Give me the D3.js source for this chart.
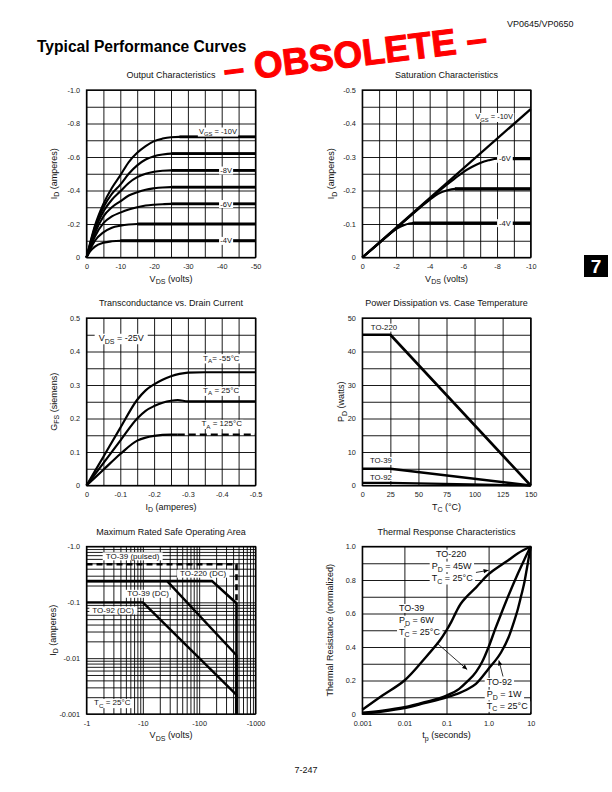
<!DOCTYPE html>
<html><head><meta charset="utf-8">
<script src="https://cdn.jsdelivr.net/npm/d3@7/dist/d3.min.js"></script>
<style>
html,body{margin:0;padding:0;background:#fff;}
svg{display:block;}
text{font-family:"Liberation Sans",Arial,Helvetica,sans-serif;}
</style></head><body>
<svg id="page" width="612" height="792"></svg>
<script>
// ================= DATA =================
// Output Characteristics: [VDS (V), ID (A)]
const outVgs10 = [[0,0],[-1,-0.08],[-2.5,-0.19],[-5,-0.32],[-7.5,-0.415],[-10,-0.49],[-12.5,-0.57],[-15,-0.625],[-17.5,-0.665],[-20,-0.695],[-22.5,-0.71],[-25,-0.718],[-27.5,-0.72],[-50,-0.72]];
const outVgs9  = [[0,0],[-1,-0.075],[-2.5,-0.18],[-5,-0.3],[-7.5,-0.38],[-10,-0.435],[-12.5,-0.5],[-15,-0.55],[-17.5,-0.585],[-20,-0.605],[-22.5,-0.615],[-25,-0.62],[-50,-0.62]];
const outVgs8  = [[0,0],[-1,-0.07],[-2.5,-0.165],[-5,-0.275],[-7.5,-0.345],[-10,-0.395],[-12.5,-0.445],[-15,-0.48],[-17.5,-0.5],[-20,-0.512],[-22.5,-0.518],[-25,-0.52],[-50,-0.52]];
const outVgs7  = [[0,0],[-1,-0.06],[-2.5,-0.145],[-5,-0.245],[-7.5,-0.3],[-10,-0.335],[-12.5,-0.37],[-15,-0.39],[-17.5,-0.405],[-20,-0.413],[-22.5,-0.418],[-25,-0.42],[-50,-0.42]];
const outVgs6  = [[0,0],[-1,-0.055],[-2.5,-0.125],[-5,-0.205],[-7.5,-0.245],[-10,-0.268],[-12.5,-0.287],[-15,-0.3],[-17.5,-0.31],[-20,-0.315],[-22.5,-0.318],[-25,-0.32],[-50,-0.32]];
const outVgs5  = [[0,0],[-1,-0.045],[-2.5,-0.1],[-5,-0.15],[-7.5,-0.178],[-10,-0.19],[-12.5,-0.197],[-15,-0.2],[-50,-0.2]];
const outVgs4  = [[0,0],[-1,-0.035],[-2.5,-0.065],[-5,-0.088],[-7.5,-0.097],[-10,-0.1],[-50,-0.1]];
const outXTicks = [0,-10,-20,-30,-40,-50];
const outYTicks = [0,-0.2,-0.4,-0.6,-0.8,-1.0];

// Saturation Characteristics: [VDS (V), ID (A)]
const satVgs10 = [[0,0],[-10,-0.443]];
const satVgs6  = [[0,0],[-2,-0.087],[-4,-0.175],[-5,-0.217],[-5.5,-0.236],[-6,-0.255],[-6.5,-0.27],[-7,-0.282],[-7.5,-0.29],[-8,-0.295],[-10,-0.295]];
const satVgs5  = [[0,0],[-2,-0.086],[-3.5,-0.152],[-4,-0.172],[-4.5,-0.19],[-5,-0.2],[-5.5,-0.205],[-10,-0.205]];
const satVgs4  = [[0,0],[-1,-0.043],[-2,-0.085],[-2.5,-0.097],[-3,-0.103],[-10,-0.103]];
const satXTicks = [0,-2,-4,-6,-8,-10];
const satYTicks = [0,-0.1,-0.2,-0.3,-0.4,-0.5];

// Transconductance vs. Drain Current: [ID (A), GFS (S)]
const gfsM55 = [[0,0],[-0.05,0.086],[-0.1,0.172],[-0.15,0.256],[-0.175,0.284],[-0.2,0.302],[-0.225,0.316],[-0.25,0.326],[-0.275,0.333],[-0.3,0.337],[-0.35,0.338],[-0.5,0.338]];
const gfs25  = [[0,0],[-0.05,0.067],[-0.1,0.134],[-0.15,0.2],[-0.175,0.223],[-0.2,0.237],[-0.225,0.247],[-0.25,0.253],[-0.27,0.255],[-0.3,0.251],[-0.5,0.251]];
const gfs125 = [[0,0],[-0.05,0.047],[-0.1,0.094],[-0.15,0.134],[-0.175,0.143],[-0.2,0.148],[-0.225,0.151],[-0.25,0.152],[-0.27,0.152]];
const gfs125Ext = [[-0.27,0.152],[-0.5,0.152]];
const gfsXTicks = [0,-0.1,-0.2,-0.3,-0.4,-0.5];
const gfsYTicks = [0,0.1,0.2,0.3,0.4,0.5];

// Power Dissipation vs. Case Temperature: [TC (°C), PD (W)]
const pdTo220 = [[0,45],[25,45],[150,0]];
const pdTo39  = [[0,5],[25,5],[150,0]];
const pdTo92  = [[0,0.8],[25,0.8],[150,0]];
const pdXTicks = [0,25,50,75,100,125,150];
const pdYTicks = [0,10,20,30,40,50];

// Maximum Rated Safe Operating Area: [|VDS| (V), |ID| (A)]
const soaTo39Pulsed = [[1,0.48],[460,0.48],[460,0.1]];
const soaTo220 = [[1,0.24],[170,0.24],[460,0.096],[460,0.001]];
const soaTo39  = [[1,0.24],[27,0.24],[460,0.0113],[460,0.001]];
const soaTo92  = [[1,0.1],[10,0.1],[460,0.0022],[460,0.001]];
const soaXTicks = [1,10,100,1000];
const soaXLabels = ["-1","-10","-100","-1000"];
const soaYTicks = [1,0.1,0.01,0.001];
const soaYLabels = ["-1.0","-0.1","-0.01","-0.001"];

// Thermal Response Characteristics: [tp (s), normalized thermal resistance]
const thTo220 = [[0.001,0.025],[0.003,0.11],[0.01,0.2],[0.03,0.33],[0.07,0.44],[0.1,0.5],[0.13,0.55],[0.17,0.61],[0.22,0.66],[0.3,0.7],[0.5,0.755],[1,0.835],[2,0.89],[3,0.92],[5,0.96],[10,1.0]];
const thTo39  = [[0.001,0.008],[0.003,0.02],[0.01,0.04],[0.03,0.07],[0.1,0.11],[0.2,0.15],[0.3,0.19],[0.5,0.25],[0.7,0.31],[1,0.4],[1.5,0.52],[2,0.6],[3,0.71],[5,0.84],[7,0.92],[10,1.0]];
const thTo92  = [[0.001,0.003],[0.003,0.015],[0.01,0.035],[0.03,0.065],[0.1,0.1],[0.2,0.125],[0.3,0.145],[0.5,0.18],[1,0.27],[2,0.37],[3,0.46],[4,0.55],[5,0.63],[6,0.71],[7,0.78],[8,0.86],[10,1.0]];
const thXTicks = [0.001,0.01,0.1,1,10];
const thXLabels = ["0.001","0.01","0.1","1.0","10"];
const thYTicks = [0,0.2,0.4,0.6,0.8,1.0];

// ================= DRAWING =================
const svg = d3.select("#page");
const fmt1 = v => v === 0 ? "0" : v.toFixed(1);
const fmtI = v => String(v);

const defs = svg.append("defs");
defs.append("marker").attr("id","ah").attr("viewBox","0 0 10 10").attr("refX",10).attr("refY",5)
  .attr("markerWidth",6).attr("markerHeight",5).attr("markerUnits","userSpaceOnUse").attr("orient","auto")
  .append("path").attr("d","M0,0.5 L10,5 L0,9.5 Z").attr("fill","#000");

function rich(t, s, fs) {
  const parts = s.split(/_\{([^}]*)\}/);
  let down = false;
  parts.forEach((p, i) => {
    if (p === "") return;
    const ts = t.append("tspan").text(p);
    if (i % 2 === 1) { ts.attr("font-size", fs*0.78).attr("dy", fs*0.28); down = true; }
    else if (down) { ts.attr("dy", -fs*0.28); down = false; }
  });
}

function panel(c) {
  const x = c.xs.range([0, c.w]), y = c.ys.range([c.h, 0]);
  const g = svg.append("g").attr("transform", `translate(${c.x0},${c.y0})`);
  const grid = g.append("g");
  grid.append("g").attr("transform", `translate(0,${c.h})`)
    .call(d3.axisBottom(x).tickValues(c.gx).tickSize(-c.h).tickFormat(() => ""));
  grid.append("g").call(d3.axisLeft(y).tickValues(c.gy).tickSize(-c.w).tickFormat(() => ""));
  grid.selectAll(".domain").remove();
  grid.selectAll("line").attr("stroke", "#000").attr("stroke-width", 0.9);
  g.append("rect").attr("width", c.w).attr("height", c.h).attr("fill", "none").attr("stroke", "#000").attr("stroke-width", 1.3);
  const ax = g.append("g").attr("transform", `translate(0,${c.h})`)
    .call(d3.axisBottom(x).tickValues(c.tx).tickFormat(c.fx).tickSize(0).tickPadding(6.4));
  const ay = g.append("g").call(d3.axisLeft(y).tickValues(c.ty).tickFormat(c.fy).tickSize(0).tickPadding(6.4));
  [ax, ay].forEach(a => {
    a.select(".domain").remove();
    a.attr("font-family", null);
    a.selectAll("text").attr("font-size", 7.3).attr("fill", "#222");
  });
  g.append("text").attr("x", c.w/2).attr("y", -12).attr("text-anchor", "middle").attr("font-size", 9).attr("fill","#111").text(c.title);
  const xt = g.append("text").attr("x", c.w/2).attr("y", c.h + 21).attr("dy", "0.35em").attr("text-anchor", "middle").attr("font-size", 9).attr("fill","#111");
  rich(xt, c.xt, 9);
  const yt = g.append("text").attr("transform", `translate(${-c.yoff},${c.h/2}) rotate(-90)`).attr("dy", "0.35em")
    .attr("text-anchor", "middle").attr("font-size", 9).attr("fill","#111");
  rich(yt, c.yt, 9);
  return {g, x, y};
}

function curve(P, data, w, opt = {}) {
  return P.g.append("path").datum(data)
    .attr("d", d3.line().x(d => P.x(d[0])).y(d => P.y(d[1])).curve(opt.curve || d3.curveMonotoneX))
    .attr("fill", "none").attr("stroke", "#000").attr("stroke-width", w)
    .attr("stroke-linejoin", "round").attr("stroke-dasharray", opt.dash || null);
}
function flatPart(data) {
  const last = data[data.length-1][1];
  return data.slice(data.findIndex(d => d[1] === last));
}
function lab(P, xv, yv, str, fs, anchor = "start", pad = 1.2) {
  const t = P.g.append("text").attr("x", P.x(xv)).attr("y", P.y(yv)).attr("dy", "0.35em")
    .attr("font-size", fs).attr("text-anchor", anchor).attr("fill", "#111");
  rich(t, str, fs);
  const b = t.node().getBBox();
  P.g.insert("rect", () => t.node()).attr("x", b.x - pad).attr("y", b.y + 0.5)
    .attr("width", b.width + 2*pad).attr("height", b.height - 1).attr("fill", "#fff");
  return t;
}
function arrow(P, a, b) {
  P.g.append("line").attr("x1", P.x(a[0])).attr("y1", P.y(a[1])).attr("x2", P.x(b[0])).attr("y2", P.y(b[1]))
    .attr("stroke", "#000").attr("stroke-width", 0.8).attr("marker-end", "url(#ah)");
}

const colX = [86.5, 362.3], colW = [169, 168.4];
const rowY = [90, 318, 546.5], rowH = 167.5;

// ---- Panel 1: Output Characteristics
{
  const xs = d3.scaleLinear().domain([0,-50]), ys = d3.scaleLinear().domain([0,-1]);
  const P = panel({x0: colX[0], y0: rowY[0], w: colW[0], h: rowH, xs, ys,
    gx: xs.ticks(10), gy: ys.ticks(10), tx: outXTicks, ty: outYTicks, fx: fmtI, fy: fmt1,
    title: "Output Characteristics", xt: "V_{DS} (volts)", yt: "I_{D} (amperes)", yoff: 33});
  [outVgs10, outVgs9, outVgs8, outVgs7, outVgs6, outVgs5, outVgs4].forEach(s => {
    curve(P, s, 2.1);
    curve(P, flatPart(s), 2.9);
  });
  lab(P, -44.5, -0.753, "V_{GS} = -10V", 7.5, "end");
  lab(P, -41.3, -0.52, "-8V", 7.5, "middle");
  lab(P, -41.3, -0.32, "-6V", 7.5, "middle");
  lab(P, -41.3, -0.1, "-4V", 7.5, "middle");
}

// ---- Panel 2: Saturation Characteristics
{
  const xs = d3.scaleLinear().domain([0,-10]), ys = d3.scaleLinear().domain([0,-0.5]);
  const P = panel({x0: colX[1], y0: rowY[0], w: colW[1], h: rowH, xs, ys,
    gx: xs.ticks(10), gy: ys.ticks(10), tx: satXTicks, ty: satYTicks, fx: fmtI, fy: fmt1,
    title: "Saturation Characteristics", xt: "V_{DS} (volts)", yt: "I_{D} (amperes)", yoff: 31.3});
  curve(P, satVgs10, 2.3);
  [satVgs6, satVgs5, satVgs4].forEach(s => { curve(P, s, 2.1); curve(P, flatPart(s), 3.2); });
  lab(P, -8.95, -0.42, "V_{GS} = -10V", 7.5, "end");
  lab(P, -8.47, -0.295, "-6V", 7.5, "middle", 2);
  lab(P, -8.47, -0.103, "-4V", 7.5, "middle", 2);
}

// ---- Panel 3: Transconductance vs. Drain Current
{
  const xs = d3.scaleLinear().domain([0,-0.5]), ys = d3.scaleLinear().domain([0,0.5]);
  const P = panel({x0: colX[0], y0: rowY[1], w: colW[0], h: rowH, xs, ys,
    gx: xs.ticks(10), gy: ys.ticks(10), tx: gfsXTicks, ty: gfsYTicks, fx: fmt1, fy: fmt1,
    title: "Transconductance vs. Drain Current", xt: "I_{D} (amperes)", yt: "G_{FS} (siemens)", yoff: 33});
  curve(P, gfsM55, 2.2);
  curve(P, gfs25, 2.2);
  curve(P, gfs125, 2.2);
  curve(P, gfs125Ext, 2.2, {dash: "7,4", curve: d3.curveLinear});
  lab(P, -0.036, 0.44, "V_{DS} = -25V", 9, "start", 4);
  lab(P, -0.345, 0.381, "T_{A}= -55°C", 8);
  lab(P, -0.345, 0.284, "T_{A} = 25°C", 8);
  lab(P, -0.34, 0.185, "T_{A} = 125°C", 8);
}

// ---- Panel 4: Power Dissipation vs. Case Temperature
{
  const xs = d3.scaleLinear().domain([0,150]), ys = d3.scaleLinear().domain([0,50]);
  const P = panel({x0: colX[1], y0: rowY[1], w: colW[1], h: rowH, xs, ys,
    gx: pdXTicks, gy: ys.ticks(10), tx: pdXTicks, ty: pdYTicks, fx: fmtI, fy: fmtI,
    title: "Power Dissipation vs. Case Temperature", xt: "T_{C} (°C)", yt: "P_{D} (watts)", yoff: 21});
  curve(P, pdTo220, 2.6, {curve: d3.curveLinear});
  curve(P, pdTo39, 2.4, {curve: d3.curveLinear});
  curve(P, pdTo92, 2.2, {curve: d3.curveLinear});
  lab(P, 7.6, 47.2, "TO-220", 7.8);
  lab(P, 6.8, 7.4, "TO-39", 7.8);
  lab(P, 6.8, 2.6, "TO-92", 7.8, "start", 1);
}

// ---- Panel 5: Maximum Rated Safe Operating Area
{
  const xs = d3.scaleLog().domain([1,1000]), ys = d3.scaleLog().domain([0.001,1]);
  const P = panel({x0: colX[0], y0: rowY[2], w: colW[0], h: rowH, xs, ys,
    gx: xs.ticks(), gy: ys.ticks(), tx: soaXTicks, ty: soaYTicks,
    fx: (d,i) => soaXLabels[i], fy: (d,i) => soaYLabels[i],
    title: "Maximum Rated Safe Operating Area", xt: "V_{DS} (volts)", yt: "I_{D} (amperes)", yoff: 34});
  curve(P, soaTo92, 2.4, {curve: d3.curveLinear});
  curve(P, soaTo39, 2.4, {curve: d3.curveLinear});
  curve(P, soaTo220, 2.6, {curve: d3.curveLinear});
  curve(P, soaTo39Pulsed, 2.6, {curve: d3.curveLinear, dash: "6,4"});
  lab(P, 2.19, 0.675, "TO-39 (pulsed)", 8, "start", 3);
  lab(P, 45.8, 0.33, "TO-220 (DC)", 8, "start", 3);
  lab(P, 5.3, 0.144, "TO-39 (DC)", 8, "start", 3);
  lab(P, 1.27, 0.0724, "TO-92 (DC)", 8, "start", 3);
  lab(P, 1.36, 0.0016, "T_{C} = 25°C", 8, "start", 3);
}

// ---- Panel 6: Thermal Response Characteristics
{
  const xs = d3.scaleLog().domain([0.001,10]), ys = d3.scaleLinear().domain([0,1]);
  const P = panel({x0: colX[1], y0: rowY[2], w: colW[1], h: rowH, xs, ys,
    gx: thXTicks, gy: ys.ticks(10), tx: thXTicks, ty: thYTicks,
    fx: (d,i) => thXLabels[i], fy: fmt1,
    title: "Thermal Response Characteristics", xt: "t_{p} (seconds)", yt: "Thermal Resistance (normalized)", yoff: 32});
  lab(P, 0.0562, 0.955, "TO-220", 9, "start", 2);
  lab(P, 0.0445, 0.884, "P_{D} = 45W", 9, "start", 2);
  lab(P, 0.0445, 0.81, "T_{C} = 25°C", 9, "start", 2);
  lab(P, 0.00745, 0.631, "TO-39", 9, "start", 2);
  lab(P, 0.00745, 0.561, "P_{D} = 6W", 9, "start", 2);
  lab(P, 0.00745, 0.491, "T_{C} = 25°C", 9, "start", 2);
  lab(P, 0.902, 0.189, "TO-92", 9, "start", 2);
  lab(P, 0.902, 0.119, "P_{D} = 1W", 9, "start", 2);
  lab(P, 0.902, 0.0496, "T_{C} = 25°C", 9, "start", 2);
  curve(P, thTo220, 2.4, {curve: d3.curveCatmullRom});
  curve(P, thTo39, 2.4);
  curve(P, thTo92, 2.4);
  arrow(P, [0.5, 0.845], [1.0, 0.858]);
  arrow(P, [0.059, 0.424], [0.31, 0.265]);
  arrow(P, [2.2, 0.224], [1.75, 0.32]);
}

// ---- Page furniture
svg.append("text").attr("x", 507).attr("y", 27).attr("font-size", 9).attr("fill", "#111").text("VP0645/VP0650");
svg.append("text").attr("x", 37).attr("y", 52).attr("font-size", 15.6).attr("font-weight", "bold").attr("fill", "#000").text("Typical Performance Curves");
svg.append("text").attr("transform", "translate(356.5,66.3) rotate(-7)").attr("text-anchor", "middle")
  .attr("font-size", 37).attr("font-weight", "bold").attr("fill", "#ff0000").attr("stroke", "#ff0000").attr("stroke-width", 1)
  .text("– OBSOLETE –");
svg.append("rect").attr("x", 584).attr("y", 255).attr("width", 24).attr("height", 22).attr("fill", "#000");
svg.append("text").attr("x", 596).attr("y", 273).attr("text-anchor", "middle").attr("font-size", 19).attr("font-weight", "bold").attr("fill", "#fff").text("7");
svg.append("text").attr("x", 306).attr("y", 773).attr("text-anchor", "middle").attr("font-size", 9).attr("fill", "#111").text("7-247");
</script>
</body></html>
